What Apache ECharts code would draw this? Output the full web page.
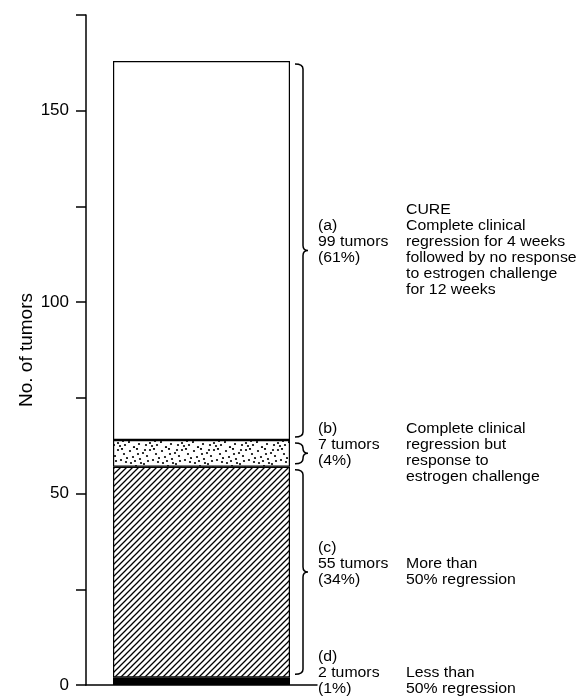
<!DOCTYPE html>
<html>
<head>
<meta charset="utf-8">
<script src="https://cdn.jsdelivr.net/npm/echarts@6/dist/echarts.min.js"></script>
<style>
  html, body { margin: 0; padding: 0; background: #fff; }
  #chart { width: 583px; height: 697px; }
</style>
</head>
<body>
<div id="chart"></div>
<script>
// segments listed bottom-up, as stacked in the bar
const categories = ['Tumors']
const groupNames = ['(d)', '(c)', '(b)', '(a)']
const tumorCounts = [2, 55, 7, 99]
const tumorPercents = ['1%', '34%', '4%', '61%']
const hasBrace = [false, true, true, true]
const descriptions = [
  'Less than\n50% regression',
  'More than\n50% regression',
  'Complete clinical\nregression but\nresponse to\nestrogen challenge',
  'CURE\nComplete clinical\nregression for 4 weeks\nfollowed by no response\nto estrogen challenge\nfor 12 weeks'
]
const yMin = 0
const yMax = 175
const yStep = 25
const yLabelled = [0, 50, 100, 150]

const BAR_W = 177
const FONT = '"Liberation Sans", Arial, sans-serif'

// fill textures
function hatchPattern() {
  const s = 6
  const c = document.createElement('canvas')
  c.width = s
  c.height = s
  const ctx = c.getContext('2d')
  ctx.fillStyle = '#fff'
  ctx.fillRect(0, 0, s, s)
  ctx.strokeStyle = '#000'
  ctx.lineWidth = 1.3
  ctx.beginPath()
  ctx.moveTo(-1, 1); ctx.lineTo(1, -1)
  ctx.moveTo(0, s); ctx.lineTo(s, 0)
  ctx.moveTo(s - 1, s + 1); ctx.lineTo(s + 1, s - 1)
  ctx.stroke()
  return c
}

function dotPattern() {
  const w = 32, h = 28
  const c = document.createElement('canvas')
  c.width = w
  c.height = h
  const ctx = c.getContext('2d')
  ctx.fillStyle = '#fff'
  ctx.fillRect(0, 0, w, h)
  ctx.fillStyle = '#000'
  const dots = [[2,3],[9,1],[15,5],[22,2],[28,6],[5,9],[12,11],[19,8],[25,12],[30,14],
    [3,15],[8,18],[16,16],[21,19],[27,21],[1,22],[11,24],[18,25],[24,26],[6,27],
    [14,20],[29,25],[10,6],[20,13],[26,1],[7,13],[17,2],[31,10],[13,15],[22,23]]
  dots.forEach(d => {
    ctx.beginPath()
    ctx.arc(d[0], d[1], 1.1, 0, Math.PI * 2)
    ctx.fill()
  })
  return c
}

const fills = [
  '#000',
  { image: hatchPattern(), repeat: 'repeat' },
  { image: dotPattern(), repeat: 'repeat' },
  '#fff'
]

const barSeries = tumorCounts.map((v, i) => ({
  name: groupNames[i],
  type: 'bar',
  stack: 'total',
  barWidth: BAR_W,
  data: [v],
  itemStyle: { color: fills[i], borderColor: '#000', borderWidth: 1.2 },
  emphasis: { disabled: true }
}))

// brace + text per segment
const braceData = []
let running = 0
tumorCounts.forEach((v, i) => {
  braceData.push([0, running, running + v, i])
  running += v
})

const renderBrace = (params, api) => {
  const i = api.value(3)
  const top = api.coord([0, api.value(2)])
  const bot = api.coord([0, api.value(1)])
  const barRight = top[0] + BAR_W / 2
  const y1 = top[1] + 3
  const y2 = bot[1] - 3
  const ym = (top[1] + bot[1]) / 2
  const children = []
  if (hasBrace[i]) {
    const x0 = barRight + 5, x1 = barRight + 13, x2 = barRight + 18, r = 5
    children.push({
      type: 'path',
      shape: {
        pathData: `M${x0} ${y1} Q${x1} ${y1} ${x1} ${y1 + r} L${x1} ${ym - r} Q${x1} ${ym} ${x2} ${ym} ` +
          `Q${x1} ${ym} ${x1} ${ym + r} L${x1} ${y2 - r} Q${x1} ${y2} ${x0} ${y2}`
      },
      style: { stroke: '#000', fill: 'none', lineWidth: 1.5 }
    })
  }
  children.push({
    type: 'text',
    x: barRight + 28,
    y: ym - 8,
    scaleX: 1.13,
    style: {
      text: `${groupNames[i]}\n${tumorCounts[i]} tumors\n(${tumorPercents[i]})`,
      font: `14px ${FONT}`, fill: '#000', align: 'left', verticalAlign: 'middle', lineHeight: 16
    }
  })
  children.push({
    type: 'text',
    x: barRight + 116,
    y: ym,
    scaleX: 1.13,
    style: {
      text: descriptions[i],
      font: `14px ${FONT}`, fill: '#000', align: 'left', verticalAlign: 'middle', lineHeight: 16
    }
  })
  return { type: 'group', children }
}

const chart = echarts.init(document.getElementById('chart'))
chart.setOption({
  animation: false,
  backgroundColor: '#fff',
  grid: { left: 86, right: 266, top: 15, bottom: 12 },
  xAxis: {
    type: 'category',
    data: categories,
    axisLine: { lineStyle: { color: '#000', width: 1.5 } },
    axisTick: { show: false },
    axisLabel: { show: false }
  },
  yAxis: {
    type: 'value',
    min: yMin,
    max: yMax,
    interval: yStep,
    name: 'No. of tumors',
    nameLocation: 'middle',
    nameRotate: 90,
    nameGap: 50,
    nameTextStyle: { color: '#000', fontSize: 19, fontFamily: FONT },
    axisLine: { show: true, lineStyle: { color: '#000', width: 1.5 } },
    axisTick: { show: true, inside: false, length: 10, lineStyle: { color: '#000', width: 1.5 } },
    axisLabel: {
      color: '#000', fontSize: 17, fontFamily: FONT, margin: 17,
      formatter: v => (yLabelled.includes(v) ? String(v) : '')
    },
    splitLine: { show: false }
  },
  series: [
    ...barSeries,
    {
      type: 'custom',
      renderItem: renderBrace,
      data: braceData,
      encode: { x: 0, y: [1, 2] },
      clip: false,
      z: 5,
      silent: true
    }
  ]
})
</script>
</body>
</html>
